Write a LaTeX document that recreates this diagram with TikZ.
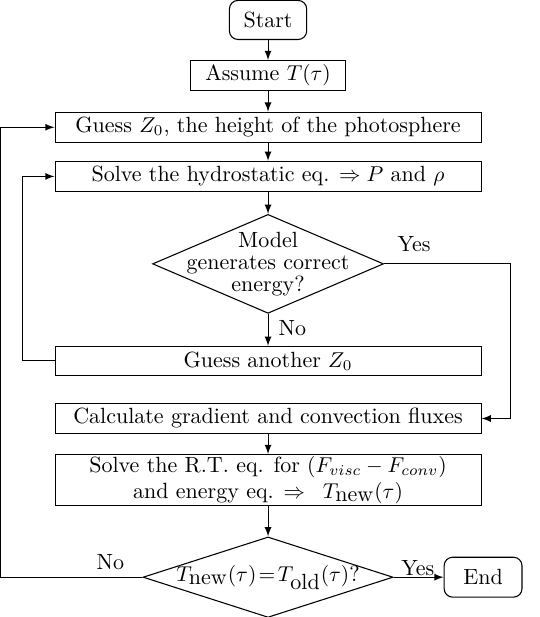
\documentclass[tikz,border=0pt]{standalone}
\usepackage{amssymb}
\usepackage{amsmath}
\usetikzlibrary{shapes.geometric, positioning, arrows}

\begin{document}
\begin{tikzpicture}[line width=0.5pt,
    every node/.style={font=\fontsize{10.25pt}{12.3pt}\selectfont},
    startstop/.style={draw, rounded corners=4pt, minimum width=36pt, minimum height=18.2pt, inner sep=2pt},
    process/.style={draw, minimum height=14pt, inner sep=2pt},
    wide/.style={process, minimum width=198.5pt},
    decision/.style={draw, diamond, inner sep=0pt}]
    \useasboundingbox (-124.9pt,9.3pt) rectangle (126.3pt,-278.2pt);

    % Start & first guesses
    \node [startstop] (Start) {Start};%
    \node [process, minimum width=72pt, below=9.3pt of Start] (Assume)
    {Assume $T(\tau)$};%
    \node [wide, below=9.6pt of Assume] (GuessZ) {Guess $Z_0$, the
      height of the photosphere};%
    \node [wide, below=8.4pt of GuessZ] (Hydro) {Solve the hydrostatic
      eq. $\Rightarrow P$ and $\rho$};%

    % Energy check
    \node [decision, minimum width=107.6pt, minimum height=46.1pt,
    below=10.2pt of Hydro, label={[name=EnergyTxt, align=center]center:
      Model\\[-2pt]generates correct\\[-2pt]energy?}] (Energy) {};%
    \node [right=2.7pt of Energy.east, yshift=9pt] (Yes1) {Yes};%
    \node [right=1.4pt of Energy.south, yshift=-6.5pt] (No1) {No};%
    \node [wide, minimum height=13.5pt, below=14.9pt of Energy] (Another)
    {Guess another $Z_0$};%

    % Fluxes & R.T.
    \node [wide, below=12.6pt of Another] (Calc) {Calculate gradient and
      convection fluxes};%
    \node [wide, align=center, inner ysep=0.8pt, below=9.3pt of Calc] (RT)
    {Solve the R.T. eq. for $(F_{visc}-F_{conv})$\\and energy eq.
      $\Rightarrow\;\;T_{\mbox{new}}(\tau)$};%

    % Convergence
    \node [decision, minimum width=116.5pt, minimum height=37.5pt,
    below=14pt of RT, label={[name=ConvTxt]center:
      {$T_{\mbox{new}}(\tau)\!=\!T_{\mbox{old}}(\tau)$?}}] (Conv) {};%
    \node [left=5pt of Conv.west, yshift=7pt] (No2) {No};%
    \node [right=0pt of Conv.east, yshift=4.2pt] (Yes2) {Yes};%
    \node [startstop, minimum width=36.3pt, minimum height=18.6pt,
    right=23.3pt of Conv] (End) {End};%

    % arrows
    \draw [-latex] (Start) -- (Assume);%
    \draw [-latex] (Assume) -- (GuessZ);%
    \draw [-latex] (GuessZ) -- (Hydro);%
    \draw [-latex] (Hydro) -- (Energy);%
    \draw [-latex] (Energy) -- (Another);%
    \draw [-latex] (Calc) -- (RT);%
    \draw [-latex] (RT) -- (Conv);%
    \draw [-latex] (Conv) -- (End);%
    \draw [-latex] (Energy.east) -| ([xshift=13.5pt]Calc.east) --
    (Calc.east);%
    \draw [-latex] (Another.west) -| ([xshift=-14.9pt]Hydro.west) --
    (Hydro.west);%
    \draw [-latex] (Conv.west) -| ([xshift=-25.2pt]GuessZ.west) --
    (GuessZ.west);
\end{tikzpicture}
\end{document}
